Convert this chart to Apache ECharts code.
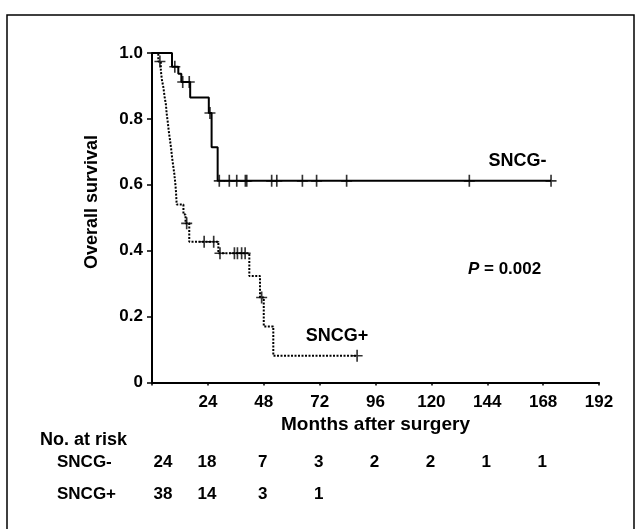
<!DOCTYPE html>
<html>
<head>
<meta charset="utf-8">
<script src="https://cdn.jsdelivr.net/npm/echarts@6/dist/echarts.min.js"></script>
<style>
html,body{margin:0;padding:0;background:#fff;}
#c{width:642px;height:529px;}
</style>
</head>
<body>
<div id="c"></div>
<script>
// ---- data ----
const xTicks = [0, 24, 48, 72, 96, 120, 144, 168, 192];
const yTicks = [0, 0.2, 0.4, 0.6, 0.8, 1.0];

// SNCG- (solid) Kaplan-Meier steps: month at which survival becomes value
const negTimes = [0, 8.6, 11.3, 12.6, 16.4, 24.4, 25.6, 28.2, 171.4];
const negSurv  = [1.0, 0.958, 0.937, 0.912, 0.865, 0.818, 0.714, 0.612, 0.612];
const negCensorTimes = [9.8, 13.2, 16.0, 24.9, 28.9, 33.2, 36.4, 40.1, 40.7, 51.4, 53.6, 64.6, 70.7, 83.6, 136.3, 171.4];
const negCensorSurv  = [0.958, 0.912, 0.912, 0.818, 0.612, 0.612, 0.612, 0.612, 0.612, 0.612, 0.612, 0.612, 0.612, 0.612, 0.612, 0.612];

// SNCG+ (dotted)
const posTimes = [0, 2.7, 3.8, 4.2, 4.9, 5.4, 6.0, 6.3, 6.8, 7.2, 7.7, 8.2, 8.6, 9.1, 9.6, 10.0, 10.3, 10.6, 13.5, 14.4, 16.0, 28.5, 41.8, 46.4, 48.0, 52.1, 88.1];
const posSurv  = [1.0, 0.974, 0.947, 0.921, 0.895, 0.868, 0.842, 0.816, 0.789, 0.763, 0.737, 0.711, 0.684, 0.658, 0.632, 0.605, 0.579, 0.540, 0.510, 0.483, 0.427, 0.392, 0.323, 0.258, 0.170, 0.081, 0.081];
const posCensorTimes = [3.4, 14.9, 22.4, 26.5, 29.2, 35.4, 36.7, 38.5, 40.0, 47.1, 88.1];
const posCensorSurv  = [0.974, 0.483, 0.427, 0.427, 0.392, 0.392, 0.392, 0.392, 0.392, 0.258, 0.081];

// number at risk table
const riskMonths = [0, 24, 48, 72, 96, 120, 144, 168];
const riskNeg = [24, 18, 7, 3, 2, 2, 1, 1];
const riskPos = [38, 14, 3, 1];
const groupNames = ['SNCG-', 'SNCG+'];
const pText = '0.002';

// ---- build ----
const FONT = 'Liberation Sans, Arial, sans-serif';
const zip = (a, b) => a.map((v, i) => [v, b[i]]);
const plusPath = 'path://M-1,-0.13H1V0.13H-1Z M-0.15,-1H0.15V1H-0.15Z';

const chart = echarts.init(document.getElementById('c'), null, {renderer: 'canvas'});
const option = {
  animation: false,
  backgroundColor: '#fff',
  grid: {left: 152, right: 43, top: 53, bottom: 146.5, containLabel: false},
  xAxis: {
    type: 'value', min: 0, max: 192, interval: 24,
    name: 'Months after surgery', nameLocation: 'middle', nameGap: 31,
    nameTextStyle: {fontFamily: FONT, fontWeight: 'bold', fontSize: 19, color: '#000'},
    axisLine: {lineStyle: {color: '#000', width: 2}},
    axisTick: {show: true, length: 3, inside: false, lineStyle: {color: '#000', width: 1.5}},
    axisLabel: {fontFamily: FONT, fontWeight: 'bold', fontSize: 17, color: '#000', margin: 11,
      formatter: v => (v === 0 ? '' : String(v))},
    splitLine: {show: false}
  },
  yAxis: {
    type: 'value', min: 0, max: 1, interval: 0.2,
    axisLine: {show: true, lineStyle: {color: '#000', width: 2}},
    axisTick: {show: true, length: 5, lineStyle: {color: '#000', width: 1.5}},
    axisLabel: {fontFamily: FONT, fontWeight: 'bold', fontSize: 17, color: '#000', margin: 9,
      formatter: v => (v === 0 ? '0' : v.toFixed(1))},
    splitLine: {show: false}
  },
  series: [
    {name: groupNames[0], type: 'line', step: 'end', showSymbol: false, symbol: 'none',
     data: zip(negTimes, negSurv), lineStyle: {color: '#000', width: 2, type: 'solid'}, z: 3},
    {name: groupNames[1], type: 'line', step: 'end', showSymbol: false, symbol: 'none',
     data: zip(posTimes, posSurv), lineStyle: {color: '#000', width: 2, type: [2, 1.5]}, z: 3},
    {type: 'scatter', data: zip(negCensorTimes, negCensorSurv), symbol: plusPath, symbolSize: [11, 12],
     itemStyle: {color: '#000'}, z: 4},
    {type: 'scatter', data: zip(posCensorTimes, posCensorSurv), symbol: plusPath, symbolSize: [11, 12],
     itemStyle: {color: '#000'}, z: 4}
  ]
};
chart.setOption(option);

function px(x, y) { return chart.convertToPixel({gridIndex: 0}, [x, y]); }

const g = [];
// outer frame
g.push({type: 'rect', shape: {x: 7, y: 15, width: 627, height: 540},
  style: {fill: 'none', stroke: '#000', lineWidth: 1.5}, silent: true});

const txt = (x, y, text, opts) => ({type: 'text', x: x, y: y,
  style: Object.assign({text: text, fontFamily: FONT, fontWeight: 'bold', fontSize: 17, fill: '#000',
    textAlign: 'center', textVerticalAlign: 'middle'}, opts || {})});

// y axis title
g.push({type: 'text', x: 92, y: 202, rotation: Math.PI / 2,
  style: {text: 'Overall survival', fontFamily: FONT, fontWeight: 'bold', fontSize: 18, fill: '#000',
    textAlign: 'center', textVerticalAlign: 'middle'}});

// series labels
let p = px(157, 0.672);
g.push(txt(p[0], p[1], groupNames[0], {fontSize: 18}));
p = px(79.5, 0.14);
g.push(txt(p[0], p[1], groupNames[1], {fontSize: 18}));
// p value
p = px(135.7, 0.342);
g.push({type: 'text', x: p[0], y: p[1], style: {
  text: '{i|P} = ' + pText,
  rich: {i: {fontStyle: 'italic', fontWeight: 'bold', fontFamily: FONT, fontSize: 17}},
  fontFamily: FONT, fontWeight: 'bold', fontSize: 17, fill: '#000', textAlign: 'left', textVerticalAlign: 'middle'}});

// risk table
g.push(txt(40, 440, 'No. at risk', {fontSize: 18, textAlign: 'left'}));
g.push(txt(57, 462, groupNames[0], {fontSize: 17, textAlign: 'left'}));
g.push(txt(57, 494, groupNames[1], {fontSize: 17, textAlign: 'left'}));
riskNeg.forEach((n, i) => {
  const q = px(riskMonths[i], 0);
  g.push(txt(q[0] + (i === 0 ? 11 : -1), 462, String(n)));
});
riskPos.forEach((n, i) => {
  const q = px(riskMonths[i], 0);
  g.push(txt(q[0] + (i === 0 ? 11 : -1), 494, String(n)));
});

chart.setOption({graphic: g});
</script>
</body>
</html>
